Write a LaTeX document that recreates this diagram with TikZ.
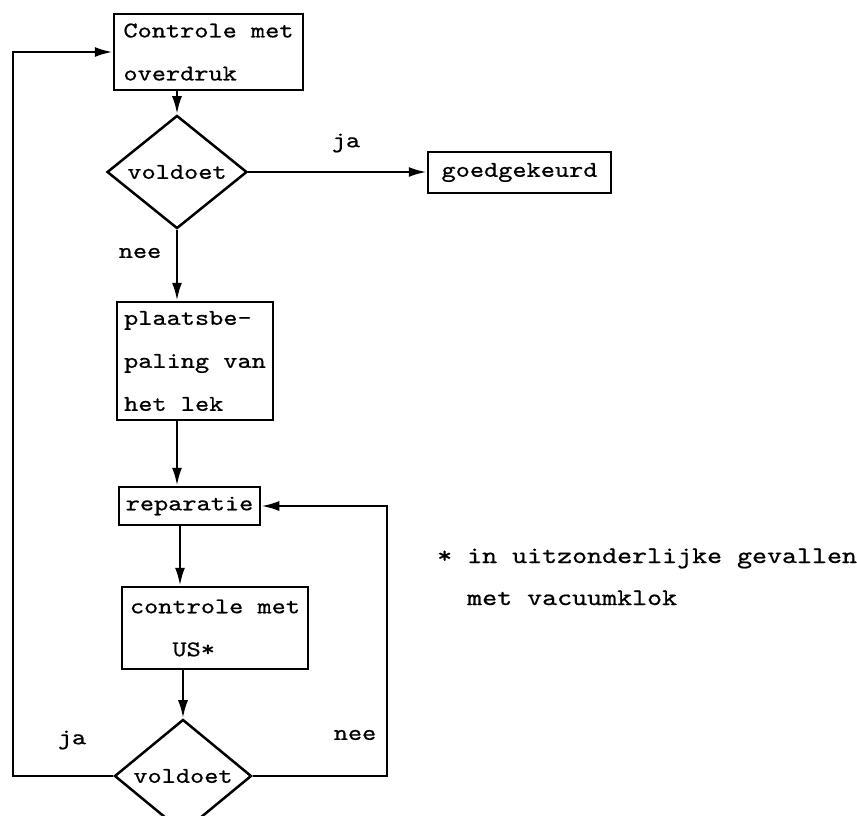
\documentclass[tikz,border=0pt]{standalone}
\usepackage{fontspec}
\newfontfamily\tw{lmmono10-regular}[Extension=.otf,FakeStretch=1.2,FakeBold=0.7]
\usetikzlibrary{shapes.geometric,arrows.meta,calc}
\begin{document}
\begin{tikzpicture}[x=1pt,y=-1pt,
  box/.style={draw,line width=2.5pt,rectangle,inner sep=0pt,align=left,font={\tw\fontsize{22.5}{43}\selectfont}},
  dia/.style={draw,line width=2.5pt,diamond,inner sep=0pt,font={\tw\fontsize{22.5}{27}\selectfont}},
  lbl/.style={font={\tw\fontsize{22.5}{27}\selectfont},inner sep=0pt},
  fn/.style={font={\tw\fontsize{23.8}{28}\selectfont},inner sep=0pt},
  arr/.style={line width=2.5pt,-{Latex[length=18pt,width=10pt]}}]
\useasboundingbox (0,0) rectangle (857,815);
\node[box,minimum width=189pt,minimum height=76pt] (top) at (208.5,52) {Controle met\\overdruk};
\node[dia,minimum width=140pt,minimum height=80pt] (d1) at (177,172) {voldoet};
\node[box,minimum width=183pt,minimum height=41pt] (gk) at (519.5,172.5) {goedgekeurd};
\node[box,minimum width=156pt,minimum height=118pt] (pb) at (195,361) {plaatsbe-\\paling van\\het lek};
\node[box,minimum width=141pt,minimum height=38pt] (rep) at (189.5,506) {reparatie};
\node[box,minimum width=186pt,minimum height=82pt] (cus) at (215,628) {controle met\\\phantom{con}US*};
\node[dia,minimum width=137pt,minimum height=78pt] (d2) at (183,776) {voldoet};
\coordinate (c1) at (13,776);
\coordinate (c2) at (387,776);
\coordinate (cx) at (180,0);
\draw[arr] (top.south -| d1.north) -- (d1.north);
\draw[arr] (d1.east) -- (gk.west |- d1.east);
\draw[arr] (d1.south) -- (pb.north -| d1.south);
\draw[arr] (pb.south -| d1.south) -- (rep.north -| d1.south);
\draw[arr] (rep.south -| cx) -- (cus.north -| cx);
\draw[arr] (cus.south -| d2.north) -- (d2.north);
\draw[arr] (d2.west) -- (c1) |- (top.west);
\draw[arr] (d2.east) -- (c2) |- (rep.east);
\node[lbl] (ja1) at (346,143) {ja};
\node[lbl] (nee1) at (140,253) {nee};
\node[lbl] (ja2) at (72,740) {ja};
\node[lbl] (nee2) at (355,735) {nee};
\node[fn,anchor=base west] (fn1) at (437,563) {* in uitzonderlijke gevallen};
\node[fn,anchor=base west] (fn2) at (467,605) {met vacuumklok};
\end{tikzpicture}
\end{document}
